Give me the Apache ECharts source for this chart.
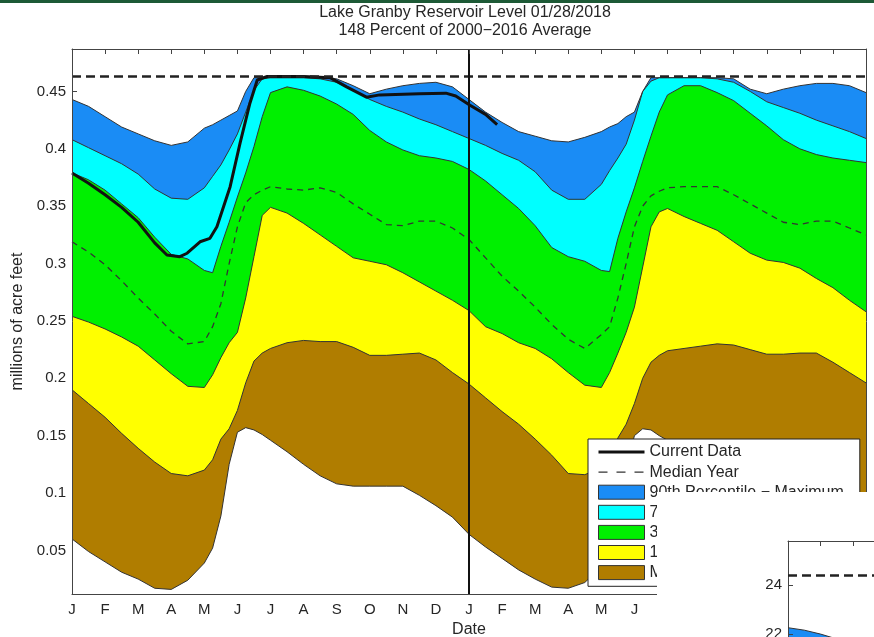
<!DOCTYPE html>
<html>
<head>
<meta charset="utf-8">
<script src="https://cdn.jsdelivr.net/npm/echarts@6/dist/echarts.min.js"></script>
<style>html,body{margin:0;padding:0;background:#fff}#c{width:874px;height:637px}</style>
</head>
<body>
<div id="c"></div>
<script>
// ---- data (months since Jan 1 of the first year shown; values in millions of acre-feet) ----
const months = [0,0.5,1,1.5,2,2.5,3,3.5,4,4.25,4.5,4.75,5,5.25,5.5,5.75,6,6.5,7,7.5,8,8.5,9,9.5,10,10.5,11,11.5,12,
  12.5,13,13.5,14,14.5,15,15.5,16,16.25,16.5,16.75,17,17.25,17.5,17.75,18,18.5,19,19.5,20,20.5,21,21.5,22,22.5,23,23.5,24];

const maxLevel = [.443,.437,.428,.419,.413,.407,.403,.406,.418,.421,.425,.429,.433,.450,.462,.462,.462,.462,.462,.462,.461,.455,.448,.452,.455,.457,.458,.454,.443,
  .432,.423,.415,.411,.407,.406,.410,.415,.419,.422,.428,.432,.450,.462,.462,.462,.462,.462,.462,.461,.452,.448,.452,.455,.457,.457,.455,.449];
const p90 = [.408,.401,.394,.387,.378,.365,.357,.356,.366,.376,.386,.399,.413,.432,.451,.461,.462,.462,.462,.461,.458,.451,.443,.437,.432,.426,.421,.415,.409,
  .403,.396,.390,.380,.364,.356,.356,.369,.381,.392,.404,.425,.450,.459,.462,.462,.462,.462,.461,.458,.450,.441,.436,.431,.425,.420,.415,.409];
const p70 = [.379,.373,.364,.352,.340,.323,.308,.304,.294,.292,.315,.336,.358,.379,.402,.428,.449,.454,.451,.446,.439,.430,.416,.406,.399,.394,.392,.389,.382,
  .372,.360,.348,.333,.314,.306,.302,.294,.293,.322,.345,.366,.389,.411,.432,.447,.455,.455,.449,.442,.431,.420,.408,.400,.395,.392,.390,.388];
const p30 = [.254,.249,.243,.236,.228,.216,.204,.193,.192,.203,.218,.231,.240,.270,.306,.342,.349,.344,.335,.325,.315,.305,.302,.299,.292,.284,.276,.268,.259,
  .245,.239,.231,.226,.217,.205,.194,.192,.205,.222,.240,.262,.297,.332,.345,.348,.341,.335,.329,.319,.309,.303,.301,.296,.287,.279,.268,.258];
const p10 = [.190,.178,.166,.152,.139,.127,.117,.115,.120,.129,.147,.156,.172,.196,.215,.222,.226,.231,.233,.232,.232,.227,.220,.220,.221,.222,.216,.205,.195,
  .183,.171,.160,.147,.133,.117,.116,.122,.130,.148,.160,.178,.200,.214,.220,.224,.226,.228,.230,.229,.225,.221,.221,.222,.222,.214,.205,.196];
const minLevel = [.060,.049,.040,.031,.025,.017,.016,.024,.039,.052,.080,.125,.153,.157,.155,.151,.146,.136,.125,.115,.108,.106,.106,.106,.106,.098,.089,.079,.064,
  .053,.043,.033,.025,.018,.017,.022,.036,.050,.078,.120,.150,.156,.155,.150,.146,.136,.126,.116,.109,.106,.106,.106,.105,.098,.089,.079,.066];
const medianYear = [.319,.310,.299,.285,.270,.256,.241,.230,.232,.245,.265,.300,.332,.353,.360,.364,.367,.365,.364,.366,.362,.352,.343,.334,.333,.337,.337,.331,.321,
  .305,.289,.276,.262,.247,.234,.226,.238,.245,.270,.300,.332,.350,.359,.363,.366,.367,.367,.367,.360,.352,.344,.336,.334,.337,.337,.331,.325];

const currentMonths = [0,0.5,1,1.5,2,2.5,2.87,3.26,3.48,3.87,4.17,4.38,4.78,5.08,5.38,5.6,5.9,7,7.8,8.3,8.9,9.3,10.5,11.3,11.6,12.03,12.5,12.85];
const currentValues = [.379,.370,.360,.349,.336,.318,.3075,.306,.309,.319,.322,.332,.367,.405,.440,.460,.463,.463,.462,.454,.445,.447,.448,.4485,.446,.438,.430,.421];

const capacityLevel = 0.4635;
const yearBoundary = 12;

const monthTicks = ['J','F','M','A','M','J','J','A','S','O','N','D','J','F','M','A','M','J','J','A','S','O','N','D','J'];
const yTicks = [0.05,0.1,0.15,0.2,0.25,0.3,0.35,0.4,0.45];

// partially visible neighbouring chart (bottom-right overlay of the screenshot)
const insetMonths = [0,0.5,1,1.5,2,3];
const insetBlue = [22.26,22.16,22.0,21.8,21.6,21.2];
const insetCapacity = 24.41;
const insetTicks = [22,24];

// ---- chart ----
const FONT = '"Liberation Sans", Arial, Helvetica, sans-serif';
const TXT = '#262626';
const AX = '#444';
const C = {blue:'#1a8cf5', cyan:'#00ffff', green:'#00f000', yellow:'#ffff00', brown:'#b07d00'};
const pairs = (xs, ys) => xs.map((m, i) => [m, ys[i]]);

function band(name, values, fill) {
  return {
    type: 'line', name, data: pairs(months, values), xAxisIndex: 0, yAxisIndex: 0,
    symbol: 'none', silent: true, z: 2,
    lineStyle: {color: '#333', width: 1},
    itemStyle: {color: fill},
    areaStyle: {color: fill, opacity: 1, origin: 'start'},
    emphasis: {disabled: true}
  };
}

const N90 = '90th Percentile \u2212 Maximum';
const N70 = '70th \u2212 90th Percentile';
const N30 = '30th \u2212 70th Percentile';
const N10 = '10th \u2212 30th Percentile';
const NMIN = 'Minimum \u2212 10th Percentile';

const chart = echarts.init(document.getElementById('c'), null, {renderer: 'canvas', width: 874, height: 637});

const option = {
  animation: false,
  backgroundColor: '#fff',
  textStyle: {fontFamily: FONT},
  title: [
    {text: 'Lake Granby Reservoir Level 01/28/2018', left: 465, top: 5, textAlign: 'center', padding: 0,
     textStyle: {fontSize: 16, fontWeight: 'normal', color: TXT, fontFamily: FONT}},
    {text: '148 Percent of 2000\u22122016 Average', left: 465, top: 23, textAlign: 'center', padding: 0,
     textStyle: {fontSize: 16, fontWeight: 'normal', color: TXT, fontFamily: FONT}}
  ],
  grid: [
    {left: 72, right: 8, top: 49, bottom: 43, outerBoundsMode: 'none', containLabel: false},
    {left: 788, top: 541, width: 391, height: 400, outerBoundsMode: 'none', containLabel: false}
  ],
  xAxis: [
    {gridIndex: 0, type: 'value', min: 0, max: 24, interval: 1, position: 'bottom', z: 10,
     axisLine: {show: true, onZero: false, lineStyle: {color: AX, width: 1}},
     axisTick: {show: false}, splitLine: {show: false},
     axisLabel: {formatter: v => monthTicks[v], margin: 8, fontSize: 15, color: TXT, fontFamily: FONT},
     name: 'Date', nameLocation: 'middle', nameGap: 26,
     nameTextStyle: {fontSize: 16, color: TXT, fontFamily: FONT}},
    {gridIndex: 0, type: 'value', min: 0, max: 24, interval: 1, position: 'top', z: 10,
     axisLine: {show: true, onZero: false, lineStyle: {color: AX, width: 1}},
     axisTick: {show: true, inside: true, length: 5, lineStyle: {color: AX}},
     axisLabel: {show: false}, splitLine: {show: false}},
    {gridIndex: 1, type: 'value', min: 0, max: 12, interval: 1, position: 'top', z: 110,
     axisLine: {show: true, onZero: false, lineStyle: {color: AX, width: 1}},
     axisTick: {show: true, inside: true, length: 5, lineStyle: {color: AX}},
     axisLabel: {show: false}, splitLine: {show: false}}
  ],
  yAxis: [
    {gridIndex: 0, type: 'value', min: 0.012, max: 0.487, position: 'left', z: 10,
     axisLine: {show: true, onZero: false, lineStyle: {color: AX, width: 1}},
     axisTick: {show: false}, splitLine: {show: false},
     axisLabel: {customValues: yTicks, formatter: v => String(v), margin: 6, fontSize: 15, color: TXT, fontFamily: FONT},
     name: 'millions of acre feet', nameLocation: 'middle', nameGap: 46, nameRotate: 90,
     nameTextStyle: {fontSize: 16, color: TXT, fontFamily: FONT}},
    {gridIndex: 0, type: 'value', min: 0.012, max: 0.487, position: 'left', z: 0,
     axisLine: {show: false},
     axisTick: {show: true, inside: true, length: 5, customValues: yTicks, lineStyle: {color: AX}},
     axisLabel: {show: false}, splitLine: {show: false}},
    {gridIndex: 0, type: 'value', min: 0.012, max: 0.487, position: 'right', z: 10,
     axisLine: {show: true, onZero: false, lineStyle: {color: AX, width: 1}},
     axisTick: {show: false}, axisLabel: {show: false}, splitLine: {show: false}},
    {gridIndex: 1, type: 'value', min: 9.47, max: 25.8, position: 'left', z: 110,
     axisLine: {show: true, onZero: false, lineStyle: {color: AX, width: 1}},
     axisTick: {show: true, inside: true, length: 5, customValues: insetTicks, lineStyle: {color: AX}},
     axisLabel: {customValues: insetTicks, margin: 6, fontSize: 15, color: TXT, fontFamily: FONT},
     splitLine: {show: false}}
  ],
  legend: {
    orient: 'vertical', left: 588, top: 439, padding: [5, 16, 5.7, 9],
    itemWidth: 46, itemHeight: 14, itemGap: 4.1, selectedMode: false,
    backgroundColor: '#fff', borderColor: '#222', borderWidth: 1, z: 4,
    textStyle: {fontSize: 16, color: TXT, fontFamily: FONT},
    data: [
      {name: 'Current Data', itemStyle: {color: 'rgba(0,0,0,0)', borderColor: 'rgba(0,0,0,0)', borderWidth: 0},
       lineStyle: {color: '#111', width: 3, type: 'solid'}},
      {name: 'Median Year', itemStyle: {color: 'rgba(0,0,0,0)', borderColor: 'rgba(0,0,0,0)', borderWidth: 0},
       lineStyle: {color: '#333', width: 1.3, type: [9, 9]}},
      {name: N90, icon: 'rect', itemStyle: {color: C.blue, borderColor: '#333', borderWidth: 1}},
      {name: N70, icon: 'rect', itemStyle: {color: C.cyan, borderColor: '#333', borderWidth: 1}},
      {name: N30, icon: 'rect', itemStyle: {color: C.green, borderColor: '#333', borderWidth: 1}},
      {name: N10, icon: 'rect', itemStyle: {color: C.yellow, borderColor: '#333', borderWidth: 1}},
      {name: NMIN, icon: 'rect', itemStyle: {color: C.brown, borderColor: '#333', borderWidth: 1}}
    ]
  },
  graphic: {
    elements: [
      {type: 'rect', shape: {x: 0, y: 0, width: 874, height: 3}, style: {fill: '#1d5a36'}, z: 100, silent: true},
      {type: 'rect', shape: {x: 657, y: 492, width: 217, height: 145}, style: {fill: '#ffffff'}, z: 100, silent: true}
    ]
  },
  series: [
    band(N90, maxLevel, C.blue),
    band(N70, p90, C.cyan),
    band(N30, p70, C.green),
    band(N10, p30, C.yellow),
    band(NMIN, p10, C.brown),
    band('Minimum', minLevel, '#ffffff'),
    {type: 'line', name: 'Median Year', data: pairs(months, medianYear), xAxisIndex: 0, yAxisIndex: 0,
     symbol: 'none', silent: true, z: 3, lineStyle: {color: '#333', width: 1.3, type: [6, 5]}, itemStyle: {color: '#333'}},
    {type: 'line', name: 'Reference', data: [], xAxisIndex: 0, yAxisIndex: 0, symbol: 'none', silent: true, z: 3,
     markLine: {symbol: 'none', silent: true, precision: 6, label: {show: false}, animation: false, z: 5,
       data: [
         {yAxis: capacityLevel, lineStyle: {color: '#222', width: 2.5, type: [9, 5]}},
         {xAxis: yearBoundary, lineStyle: {color: '#111', width: 2, type: 'solid'}}
       ]}},
    {type: 'line', name: 'Current Data', data: pairs(currentMonths, currentValues), xAxisIndex: 0, yAxisIndex: 0,
     symbol: 'none', silent: true, z: 3, lineStyle: {color: '#111', width: 3}, itemStyle: {color: '#111'}},
    {type: 'line', name: 'inset', data: pairs(insetMonths, insetBlue), xAxisIndex: 2, yAxisIndex: 3,
     symbol: 'none', silent: true, z: 110, lineStyle: {color: '#333', width: 1},
     areaStyle: {color: C.blue, opacity: 1, origin: 'start'},
     markLine: {symbol: 'none', silent: true, precision: 6, label: {show: false}, animation: false, z: 120,
       data: [{yAxis: insetCapacity, lineStyle: {color: '#222', width: 2.5, type: [9, 5]}}]}}
  ]
};
chart.setOption(option);
</script>
</body>
</html>
